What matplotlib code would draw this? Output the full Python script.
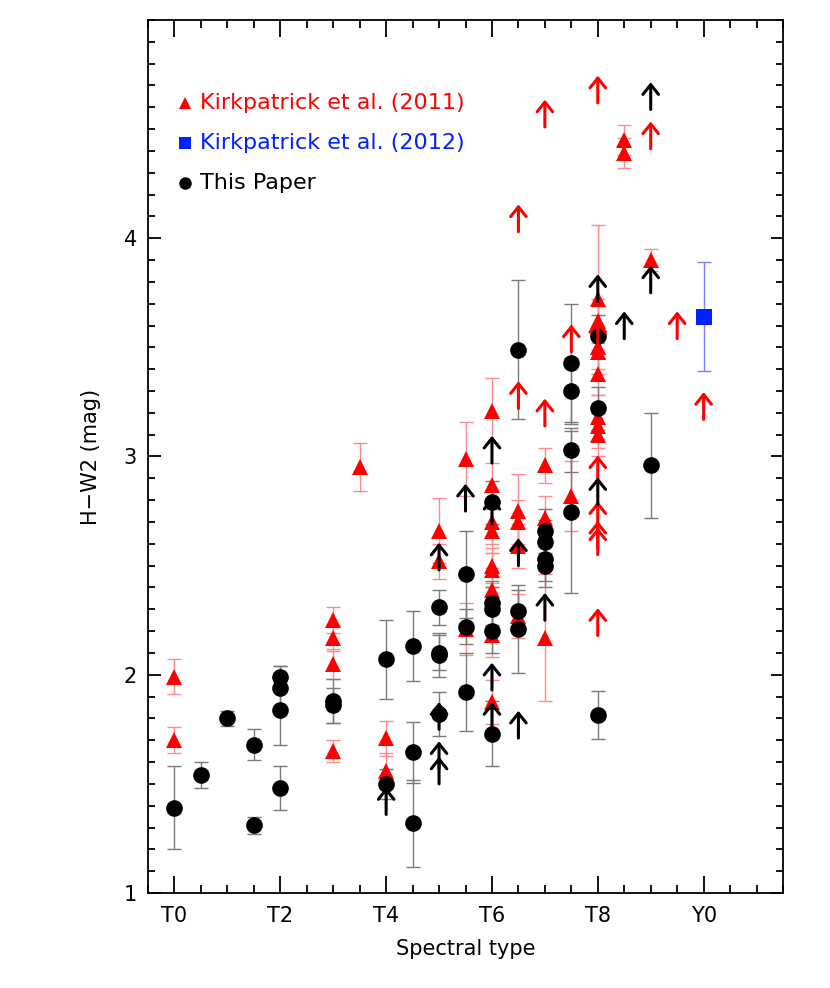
import matplotlib
matplotlib.use("Agg")
import matplotlib.pyplot as plt
from matplotlib.ticker import MultipleLocator, FixedLocator

# ---------------- data ----------------
# Spectral type numeric: T0=0 ... T9=9, Y0=10
k11_x = [0, 0, 3, 3, 3, 3, 3.5, 4, 4, 5, 5, 5.5, 5.5,
         6, 6, 6, 6, 6, 6, 6, 6, 6,
         6.5, 6.5, 6.5, 6.5, 7, 7, 7, 7.5,
         8, 8, 8, 8, 8, 8, 8, 8, 8, 8.5, 8.5, 9]
k11_y = [1.99, 1.70, 2.25, 2.17, 2.05, 1.65, 2.95, 1.71, 1.56, 2.66, 2.52, 2.99, 2.21,
         3.21, 2.87, 2.70, 2.66, 2.50, 2.48, 2.39, 2.18, 1.875,
         2.75, 2.70, 2.59, 2.27, 2.96, 2.72, 2.17, 2.82,
         3.72, 3.62, 3.59, 3.50, 3.48, 3.38, 3.18, 3.14, 3.10, 4.45, 4.39, 3.90]
k11_err = [0.08, 0.06, 0.06, 0.06, 0.07, 0.05, 0.11, 0.08, 0.08, 0.15, 0.08, 0.17, 0.12,
           0.15, 0.10, 0.10, 0.10, 0.08, 0.08, 0.10, 0.10, 0.10,
           0.17, 0.10, 0.10, 0.10, 0.08, 0.10, 0.29, 0.16,
           0.34, 0.10, 0.10, 0.10, 0.10, 0.10, 0.10, 0.10, 0.10, 0.07, 0.07, 0.05]
# lower limits (arrows), Kirkpatrick 2011
k11_lim_x = [6.5, 6.5, 7, 7, 7.5, 8, 8, 8, 8, 8, 8, 8, 9, 9.5, 10]
k11_lim_y = [4.03, 3.22, 4.51, 3.14, 3.48, 4.62, 3.50, 2.88, 2.67, 2.58, 2.55, 2.18, 4.41, 3.54, 3.17]

k12_x = [10]
k12_y = [3.64]
k12_err = [0.25]

tp_x = [0, 0.5, 1, 1.5, 1.5, 2, 2, 2, 2, 3, 3, 4, 4, 4.5, 4.5, 4.5,
        5, 5, 5, 5, 5.5, 5.5, 5.5, 6, 6, 6, 6, 6, 6.5, 6.5, 6.5,
        7, 7, 7, 7, 7.5, 7.5, 7.5, 7.5, 8, 8, 8, 9]
tp_y = [1.39, 1.54, 1.80, 1.68, 1.31, 1.99, 1.94, 1.84, 1.48, 1.88, 1.86, 2.07, 1.50, 2.13, 1.645, 1.32,
        2.31, 2.10, 2.09, 1.82, 2.46, 2.22, 1.92, 2.79, 2.33, 2.30, 2.20, 1.73, 3.49, 2.29, 2.21,
        2.66, 2.61, 2.53, 2.50, 3.43, 3.30, 3.03, 2.745, 3.55, 3.22, 1.815, 2.96]
tp_err = [0.19, 0.06, 0.035, 0.07, 0.04, 0.05, 0.10, 0.16, 0.10, 0.10, 0.08, 0.18, 0.07, 0.16, 0.14, 0.20,
          0.08, 0.08, 0.10, 0.10, 0.20, 0.08, 0.18, 0.10, 0.10, 0.10, 0.10, 0.15, 0.32, 0.10, 0.20,
          0.10, 0.10, 0.10, 0.10, 0.27, 0.15, 0.10, 0.37, 0.10, 0.10, 0.11, 0.24]
tp_lim_x = [4, 5, 5, 5, 5, 5.5, 6, 6, 6, 6, 6.5, 6.5, 7, 8, 8, 8.5, 9, 9]
tp_lim_y = [1.36, 2.48, 1.75, 1.57, 1.50, 2.75, 2.97, 2.69, 1.93, 1.75, 2.50, 1.71, 2.25, 3.71, 2.78, 3.54, 4.59, 3.75]

xtick_vals = [0, 2, 4, 6, 8, 10]
xtick_labels = ["T0", "T2", "T4", "T6", "T8", "Y0"]
ytick_vals = [1, 2, 3, 4]
ytick_labels = ["1", "2", "3", "4"]

legend_labels = ["Kirkpatrick et al. (2011)", "Kirkpatrick et al. (2012)", "This Paper"]

# ---------------- figure ----------------
plt.rcParams['font.family'] = ['DejaVu Sans']
fig = plt.figure(figsize=(8.3, 9.88), dpi=100)
ax = fig.add_axes([148/830, 95/988, 635/830, 873/988])

ARROW_LEN = 0.125

# error bars + markers
ax.errorbar(k11_x, k11_y, yerr=k11_err, fmt='none', ecolor='#ff8c8c', elinewidth=1.0,
            capsize=5, capthick=1.0, zorder=2)
ax.errorbar(tp_x, tp_y, yerr=tp_err, fmt='none', ecolor='#7a7a7a', elinewidth=1.0,
            capsize=5, capthick=1.0, zorder=2)
ax.errorbar(k12_x, k12_y, yerr=k12_err, fmt='none', ecolor='#7f7fff', elinewidth=1.0,
            capsize=5, capthick=1.0, zorder=2)

ax.plot(k11_x, k11_y, linestyle='none', marker='^', color='red', markersize=12,
        markeredgewidth=0, zorder=3)
ax.plot(tp_x, tp_y, linestyle='none', marker='o', color='black', markersize=12,
        markeredgewidth=0, zorder=4)
ax.plot(k12_x, k12_y, linestyle='none', marker='s', color='#0022ff', markersize=12,
        markeredgewidth=0, zorder=4)

def draw_limits(xs, ys, color):
    for x, y in zip(xs, ys):
        ax.annotate('', xy=(x, y + ARROW_LEN), xytext=(x, y),
                    arrowprops=dict(arrowstyle='->,head_length=0.35,head_width=0.28',
                                    color=color, lw=2.2, shrinkA=0, shrinkB=0,
                                    mutation_scale=20),
                    zorder=5)

draw_limits(k11_lim_x, k11_lim_y, 'red')
draw_limits(tp_lim_x, tp_lim_y, 'black')

# axes
ax.set_xlim(-0.5, 11.5)
ax.set_ylim(1, 5)
ax.xaxis.set_major_locator(FixedLocator(xtick_vals))
ax.set_xticklabels(xtick_labels)
ax.xaxis.set_minor_locator(MultipleLocator(0.5))
ax.yaxis.set_major_locator(FixedLocator(ytick_vals))
ax.set_yticklabels(ytick_labels)
ax.yaxis.set_minor_locator(MultipleLocator(0.1))
ax.tick_params(axis='both', which='both', direction='in', top=True, right=True,
               labelsize=15, width=1.3)
ax.tick_params(axis='x', which='major', length=12, pad=9)
ax.tick_params(axis='x', which='minor', length=6)
ax.tick_params(axis='y', which='major', length=9, pad=8)
ax.tick_params(axis='y', which='minor', length=5)
for s in ax.spines.values():
    s.set_linewidth(1.3)

ax.set_xlabel("Spectral type", fontsize=15, labelpad=10)
ax.set_ylabel("H\u2212W2 (mag)", fontsize=15, labelpad=16)

# legend (manual)
leg_colors = ['red', '#0022ff', 'black']
leg_markers = ['^', 's', 'o']
leg_y = [0.905, 0.859, 0.813]
for lab, c, m, yy in zip(legend_labels, leg_colors, leg_markers, leg_y):
    ax.plot([0.058], [yy], marker=m, color=c, markersize=9, markeredgewidth=0,
            transform=ax.transAxes, clip_on=False)
    ax.text(0.082, yy, lab, color=c, fontsize=16, transform=ax.transAxes,
            va='center', ha='left')

fig.savefig("out.png", dpi=100)
